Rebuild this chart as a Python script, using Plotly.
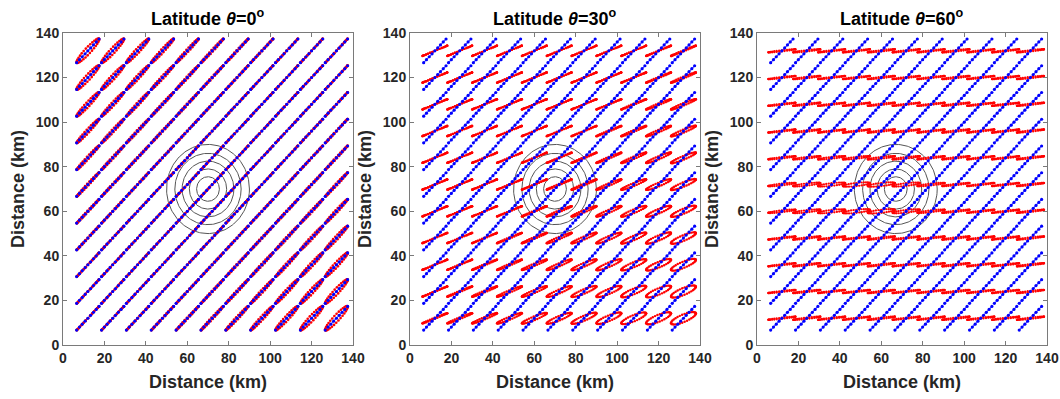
import numpy as np
import plotly.graph_objects as go

# ---------------- data ----------------
grid_km = [12, 24, 36, 48, 60, 72, 84, 96, 108, 120, 132]       # cell centres (x and y)
rows_y_km = [132, 120, 108, 96, 84, 72, 60, 48, 36, 24, 12]     # table row order (top -> bottom)
tick_vals = [0, 20, 40, 60, 80, 100, 120, 140]
panel_titles = ["Latitude <i>θ</i>=0<sup>o</sup>", "Latitude <i>θ</i>=30<sup>o</sup>", "Latitude <i>θ</i>=60<sup>o</sup>"]

# blue displacement segment half extents (km)
blue_half_dx = 5.4
blue_half_dy = 5.3

# red ellipse: semi-major axis (km) and tilt (deg) per panel
red_semi_major = [7.6, 6.4, 6.6]
red_tilt_deg = [45.0, 21.0, 6.0]
red_marker_size = [2.6, 2.4, 2.2]

# red ellipse semi-minor axes (km), rows top->bottom, columns left->right
minor_lat0 = [
    [1.4, 1.2, 1.0, 0.8, 0.62, 0.46, 0.32, 0.2, 0.1, 0.03, 0.0],
    [1.2, 1.0, 0.8, 0.62, 0.46, 0.32, 0.2, 0.1, 0.03, 0.0, 0.03],
    [1.0, 0.8, 0.62, 0.46, 0.32, 0.2, 0.1, 0.03, 0.0, 0.03, 0.1],
    [0.8, 0.62, 0.46, 0.32, 0.2, 0.1, 0.03, 0.0, 0.03, 0.1, 0.2],
    [0.62, 0.46, 0.32, 0.2, 0.1, 0.03, 0.0, 0.03, 0.1, 0.2, 0.32],
    [0.46, 0.32, 0.2, 0.1, 0.03, 0.0, 0.03, 0.1, 0.2, 0.32, 0.46],
    [0.32, 0.2, 0.1, 0.03, 0.0, 0.03, 0.1, 0.2, 0.32, 0.46, 0.62],
    [0.2, 0.1, 0.03, 0.0, 0.03, 0.1, 0.2, 0.32, 0.46, 0.62, 0.8],
    [0.1, 0.03, 0.0, 0.03, 0.1, 0.2, 0.32, 0.46, 0.62, 0.8, 1.0],
    [0.03, 0.0, 0.03, 0.1, 0.2, 0.32, 0.46, 0.62, 0.8, 1.0, 1.2],
    [0.0, 0.03, 0.1, 0.2, 0.32, 0.46, 0.62, 0.8, 1.0, 1.2, 1.4],
]
minor_lat30 = [
    [0, 0, 0, 0, 0, 0, 0, 0, 0, 0.1, 0.24],
    [0, 0, 0, 0, 0, 0, 0, 0, 0.1, 0.24, 0.38],
    [0, 0, 0, 0, 0, 0, 0, 0.1, 0.24, 0.38, 0.53],
    [0, 0, 0, 0, 0, 0, 0.1, 0.24, 0.38, 0.53, 0.67],
    [0, 0, 0, 0, 0, 0.1, 0.24, 0.38, 0.53, 0.67, 0.82],
    [0, 0, 0, 0, 0.1, 0.24, 0.38, 0.53, 0.67, 0.82, 0.96],
    [0, 0, 0, 0.1, 0.24, 0.38, 0.53, 0.67, 0.82, 0.96, 1.1],
    [0, 0, 0.1, 0.24, 0.38, 0.53, 0.67, 0.82, 0.96, 1.1, 1.25],
    [0, 0.1, 0.24, 0.38, 0.53, 0.67, 0.82, 0.96, 1.1, 1.25, 1.39],
    [0.1, 0.24, 0.38, 0.53, 0.67, 0.82, 0.96, 1.1, 1.25, 1.39, 1.54],
    [0.24, 0.38, 0.53, 0.67, 0.82, 0.96, 1.1, 1.25, 1.39, 1.54, 1.68],
]
minor_lat60 = [
    [0.25, 0.3, 0.25, 0.25, 0.3, 0.25, 0.25, 0.3, 0.25, 0.25, 0.3],
    [0.25, 0.3, 0.25, 0.25, 0.3, 0.25, 0.25, 0.3, 0.25, 0.25, 0.3],
    [0.25, 0.3, 0.25, 0.25, 0.3, 0.25, 0.25, 0.3, 0.25, 0.25, 0.3],
    [0.25, 0.3, 0.25, 0.25, 0.3, 0.25, 0.25, 0.3, 0.25, 0.25, 0.3],
    [0.3, 0.35, 0.4, 0.4, 0.4, 0.35, 0.3, 0.3, 0.25, 0.25, 0.3],
    [0.4, 0.5, 0.6, 0.7, 0.7, 0.6, 0.4, 0.3, 0.25, 0.25, 0.3],
    [0.4, 0.5, 0.6, 0.7, 0.7, 0.6, 0.4, 0.3, 0.25, 0.25, 0.3],
    [0.25, 0.3, 0.25, 0.25, 0.3, 0.25, 0.25, 0.3, 0.25, 0.25, 0.3],
    [0.25, 0.3, 0.25, 0.25, 0.3, 0.25, 0.25, 0.3, 0.25, 0.25, 0.3],
    [0.25, 0.3, 0.25, 0.25, 0.3, 0.25, 0.25, 0.3, 0.25, 0.25, 0.3],
    [0.25, 0.3, 0.25, 0.25, 0.3, 0.25, 0.25, 0.3, 0.25, 0.25, 0.3],
]
minor_tables = [minor_lat0, minor_lat30, minor_lat60]

# concentric circles (km), centre per panel
circle_center_x_km = [70, 70, 67]
circle_center_y_km = [70, 70, 70]
circle_radii_km = [5.5, 9, 12.5, 16, 20]

# ---------------- layout geometry ----------------
W, H = 1060, 399
panel_left_px = [63, 410, 757]
panel_width_px = 290
panel_top_px, panel_bottom_px = 33, 345

fig = go.Figure()

n_ell = 32
t = np.linspace(0, 2 * np.pi, n_ell + 1)
n_blue = 9
s = np.linspace(-1, 1, n_blue)
tc = np.linspace(0, 2 * np.pi, 181)

for p in range(3):
    xa = "x" if p == 0 else f"x{p+1}"
    ya = "y" if p == 0 else f"y{p+1}"
    a = red_semi_major[p]
    th = np.deg2rad(red_tilt_deg[p])
    rx, ry, bx, by = [], [], [], []
    for i, cy in enumerate(rows_y_km):
        for j, cx in enumerate(grid_km):
            b = minor_tables[p][i][j]
            ex = a * np.cos(t)
            ey = b * np.sin(t)
            rx += list(cx + ex * np.cos(th) - ey * np.sin(th)) + [None]
            ry += list(cy + ex * np.sin(th) + ey * np.cos(th)) + [None]
            bx += list(cx + s * blue_half_dx) + [None]
            by += list(cy + s * blue_half_dy) + [None]
    cxl, cyl = [], []
    for r in circle_radii_km:
        cxl += list(circle_center_x_km[p] + r * np.cos(tc)) + [None]
        cyl += list(circle_center_y_km[p] + r * np.sin(tc)) + [None]
    fig.add_trace(go.Scatter(x=cxl, y=cyl, xaxis=xa, yaxis=ya, mode="lines",
                             line=dict(color="#555555", width=1), hoverinfo="skip", showlegend=False))
    # blue line (under red)
    fig.add_trace(go.Scatter(x=bx, y=by, xaxis=xa, yaxis=ya, mode="lines",
                             line=dict(color="rgba(40,40,255,0.85)", width=1.1),
                             hoverinfo="skip", showlegend=False))
    fig.add_trace(go.Scatter(x=rx, y=ry, xaxis=xa, yaxis=ya, mode="lines+markers",
                             line=dict(color="rgba(255,30,30,0.7)", width=0.6),
                             marker=dict(color="#ff0000", size=red_marker_size[p]),
                             hoverinfo="skip", showlegend=False))
    # blue dots (on top)
    fig.add_trace(go.Scatter(x=bx, y=by, xaxis=xa, yaxis=ya, mode="markers",
                             marker=dict(color="#0000ff", size=3.2), hoverinfo="skip", showlegend=False))

axis_common = dict(range=[0, 140], tickvals=tick_vals, ticks="inside", ticklen=4, tickcolor="#7a7a7a",
                   showline=True, linecolor="#7a7a7a", linewidth=1, mirror="ticks", showgrid=False,
                   zeroline=False, automargin=False,
                   tickfont=dict(family="Liberation Sans", size=14, color="#262626", weight="bold"))

ydom = [(H - panel_bottom_px) / H, (H - panel_top_px) / H]
layout = dict(width=W, height=H, margin=dict(l=0, r=0, t=0, b=0, autoexpand=False), plot_bgcolor="white",
              paper_bgcolor="white", showlegend=False, template="none")
annotations = []
for p in range(3):
    xdom = [panel_left_px[p] / W, (panel_left_px[p] + panel_width_px) / W]
    xk = "xaxis" if p == 0 else f"xaxis{p+1}"
    yk = "yaxis" if p == 0 else f"yaxis{p+1}"
    ya = "y" if p == 0 else f"y{p+1}"
    xa = "x" if p == 0 else f"x{p+1}"
    layout[xk] = dict(axis_common, domain=xdom, anchor=ya)
    layout[yk] = dict(axis_common, domain=ydom, anchor=xa)
    cxp = (panel_left_px[p] + panel_width_px / 2) / W
    annotations.append(dict(text="<b>" + panel_titles[p] + "</b>", x=cxp, y=(H - 17) / H, xref="paper", yref="paper",
                            showarrow=False, xanchor="center", yanchor="middle",
                            font=dict(family="Liberation Sans", size=18, color="#000000")))
    annotations.append(dict(text="<b>Distance (km)</b>", x=cxp, y=(H - 382) / H, xref="paper", yref="paper",
                            showarrow=False, xanchor="center", yanchor="middle",
                            font=dict(family="Liberation Sans", size=18, color="#262626")))
    annotations.append(dict(text="<b>Distance (km)</b>", x=(panel_left_px[p] - 45) / W,
                            y=(H - (panel_top_px + panel_bottom_px) / 2) / H, xref="paper", yref="paper",
                            showarrow=False, xanchor="center", yanchor="middle", textangle=-90,
                            font=dict(family="Liberation Sans", size=18, color="#262626")))
layout["annotations"] = annotations
fig.update_layout(**layout)
fig.write_html("out.html")
